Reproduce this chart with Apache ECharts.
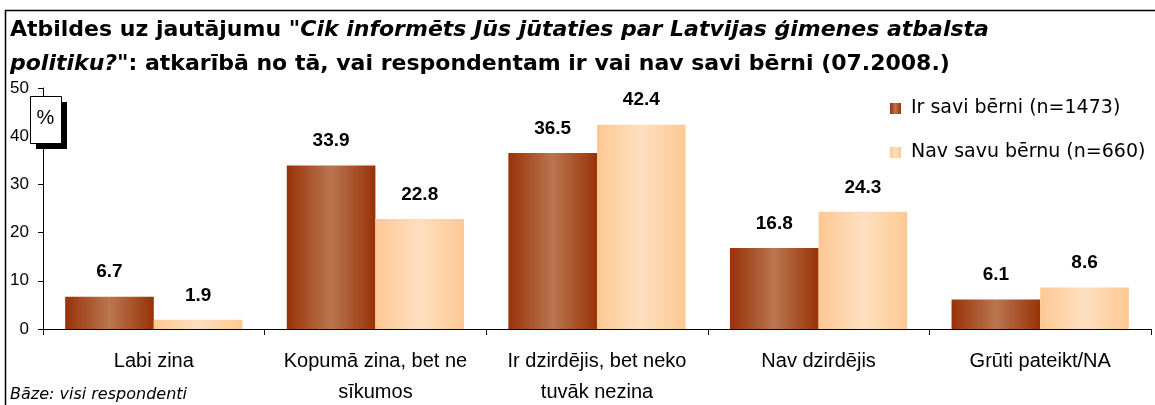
<!DOCTYPE html>
<html>
<head>
<meta charset="utf-8">
<script src="https://cdn.jsdelivr.net/npm/echarts@6/dist/echarts.min.js"></script>
<style>
  html, body { margin: 0; padding: 0; background: #fff; }
  #chart { width: 1155px; height: 405px; }
</style>
</head>
<body>
<div id="chart"></div>
<script>
var categories = ['Labi zina', 'Kopumā zina, bet ne\nsīkumos', 'Ir dzirdējis, bet neko\ntuvāk nezina', 'Nav dzirdējis', 'Grūti pateikt/NA'];
var seriesNames = ['Ir savi bērni (n=1473)', 'Nav savu bērnu (n=660)'];
var withChildren = [6.7, 33.9, 36.5, 16.8, 6.1];
var withoutChildren = [1.9, 22.8, 42.4, 24.3, 8.6];
var yTicks = [0, 10, 20, 30, 40, 50];

var font = 'Liberation Sans, Arial, sans-serif';
var wide = 'DejaVu Sans, sans-serif';

function grad(edge, mid) {
  return new echarts.graphic.LinearGradient(0, 0, 1, 0, [
    { offset: 0, color: edge },
    { offset: 0.5, color: mid },
    { offset: 1, color: edge }
  ]);
}

var valueLabel = { show: true, position: 'top', distance: 15, color: '#000', fontSize: 19, fontWeight: 'bold', fontFamily: font };

var chart = echarts.init(document.getElementById('chart'), null, { renderer: 'canvas' });
chart.setOption({
  animation: false,
  textStyle: { fontFamily: font },
  title: {
    left: 10,
    top: 13,
    padding: 0,
    text: '{b|Atbildes uz jautājumu }{i|"Cik informēts Jūs jūtaties par Latvijas ģimenes atbalsta}\n{i|politiku?"}{b|: atkarībā no tā, vai respondentam ir vai nav savi bērni (07.2008.)}',
    textStyle: {
      rich: {
        b: { fontSize: 22, fontWeight: 'bold', fontFamily: wide, color: '#000', lineHeight: 34 },
        i: { fontSize: 22, fontWeight: 'bold', fontStyle: 'italic', fontFamily: wide, color: '#000', lineHeight: 34 }
      }
    }
  },
  legend: {
    orient: 'vertical',
    left: 890,
    top: 99,
    padding: 0,
    itemGap: 25,
    itemWidth: 11,
    itemHeight: 11,
    icon: 'rect',
    data: seriesNames,
    textStyle: { fontSize: 19, color: '#000', fontFamily: wide, padding: [0, 0, 0, 5] }
  },
  grid: { left: 43, right: 4, top: 88, bottom: 76, outerBoundsMode: 'none', containLabel: false },
  xAxis: {
    type: 'category',
    data: categories,
    axisLine: { lineStyle: { color: '#000', width: 1 } },
    axisTick: { show: true, length: 6, lineStyle: { color: '#000' } },
    axisLabel: { color: '#000', fontSize: 20, margin: 17, lineHeight: 31, interval: 0, fontFamily: font }
  },
  yAxis: {
    type: 'value',
    min: yTicks[0],
    max: yTicks[yTicks.length - 1],
    interval: 10,
    axisLine: { show: true, lineStyle: { color: '#000', width: 1 } },
    axisTick: { show: true, length: 5, lineStyle: { color: '#000' } },
    axisLabel: { color: '#000', fontSize: 17, margin: 14, fontFamily: font },
    splitLine: { show: false }
  },
  series: [
    {
      name: seriesNames[0],
      type: 'bar',
      data: withChildren,
      barGap: '0%',
      barCategoryGap: '20%',
      itemStyle: { color: grad('#993208', '#b97650') },
      label: valueLabel
    },
    {
      name: seriesNames[1],
      type: 'bar',
      data: withoutChildren,
      itemStyle: { color: grad('#fdc893', '#fedfc0') },
      label: valueLabel
    }
  ],
  graphic: [
    {
      type: 'rect',
      left: 3, top: 8,
      shape: { width: 1170, height: 420 },
      style: { fill: 'none', stroke: '#000', lineWidth: 1.5 },
      silent: true
    },
    {
      type: 'rect',
      left: 36, top: 102,
      shape: { width: 31, height: 47 },
      style: { fill: '#000' },
      z: 100
    },
    {
      type: 'rect',
      left: 30, top: 96,
      shape: { width: 31, height: 47 },
      style: { fill: '#fff', stroke: '#000', lineWidth: 1 },
      z: 101
    },
    {
      type: 'text',
      x: 45.5, y: 118,
      style: { text: '%', fontSize: 20, fill: '#000', fontFamily: font, align: 'center', verticalAlign: 'middle' },
      z: 102
    },
    {
      type: 'text',
      left: 10, top: 387,
      style: { text: 'Bāze: visi respondenti', fontSize: 16, fontStyle: 'italic', fill: '#000', fontFamily: wide }
    }
  ]
});
window.addEventListener('resize', function() { chart.resize(); });
</script>
</body>
</html>
